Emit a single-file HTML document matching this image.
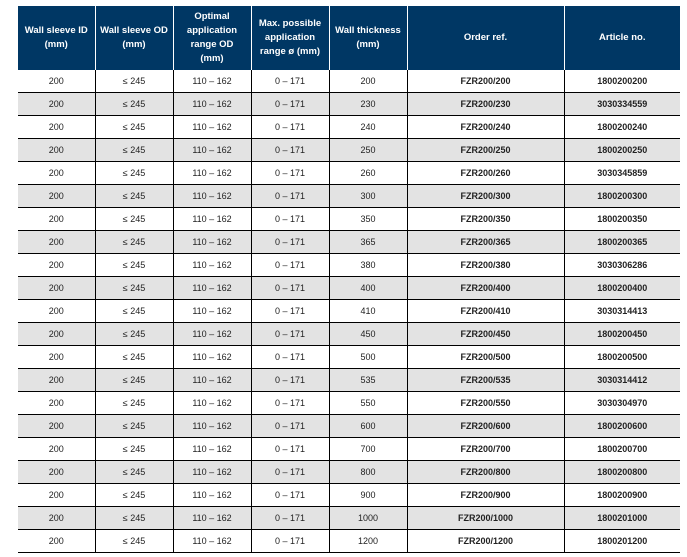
<!DOCTYPE html>
<html><head><meta charset="utf-8"><style>
html,body{margin:0;padding:0;background:#fff;width:687px;height:557px;overflow:hidden}
table{position:absolute;left:18px;top:6px;border-collapse:collapse;font-family:"Liberation Sans",sans-serif;font-size:9px;color:#222;table-layout:fixed}
th{background:#003764;color:#fff;font-weight:bold;height:64px;padding:0 4px;border-left:1px solid #fff;line-height:14px;font-size:9.5px}
th.n{padding:0 9px}
th:first-child{border-left:none}
td{height:22px;text-align:center;border-left:1px solid #000;border-bottom:1px solid #000;padding:0}
td:first-child{border-left:none}
tr:nth-child(odd) td{background:#e3e3e3}
td.b{font-weight:bold}
</style></head><body>
<table>
<colgroup><col style="width:77px"><col style="width:78px"><col style="width:78px"><col style="width:78px"><col style="width:78px"><col style="width:157px"><col style="width:116px"></colgroup>
<tr><th>Wall sleeve ID (mm)</th><th>Wall sleeve OD (mm)</th><th class="n">Optimal application range OD (mm)</th><th>Max. possible application range ø (mm)</th><th>Wall thickness (mm)</th><th>Order ref.</th><th>Article no.</th></tr>
<tr><td>200</td><td>≤ 245</td><td>110 – 162</td><td>0 – 171</td><td>200</td><td class="b">FZR200/200</td><td class="b">1800200200</td></tr>
<tr><td>200</td><td>≤ 245</td><td>110 – 162</td><td>0 – 171</td><td>230</td><td class="b">FZR200/230</td><td class="b">3030334559</td></tr>
<tr><td>200</td><td>≤ 245</td><td>110 – 162</td><td>0 – 171</td><td>240</td><td class="b">FZR200/240</td><td class="b">1800200240</td></tr>
<tr><td>200</td><td>≤ 245</td><td>110 – 162</td><td>0 – 171</td><td>250</td><td class="b">FZR200/250</td><td class="b">1800200250</td></tr>
<tr><td>200</td><td>≤ 245</td><td>110 – 162</td><td>0 – 171</td><td>260</td><td class="b">FZR200/260</td><td class="b">3030345859</td></tr>
<tr><td>200</td><td>≤ 245</td><td>110 – 162</td><td>0 – 171</td><td>300</td><td class="b">FZR200/300</td><td class="b">1800200300</td></tr>
<tr><td>200</td><td>≤ 245</td><td>110 – 162</td><td>0 – 171</td><td>350</td><td class="b">FZR200/350</td><td class="b">1800200350</td></tr>
<tr><td>200</td><td>≤ 245</td><td>110 – 162</td><td>0 – 171</td><td>365</td><td class="b">FZR200/365</td><td class="b">1800200365</td></tr>
<tr><td>200</td><td>≤ 245</td><td>110 – 162</td><td>0 – 171</td><td>380</td><td class="b">FZR200/380</td><td class="b">3030306286</td></tr>
<tr><td>200</td><td>≤ 245</td><td>110 – 162</td><td>0 – 171</td><td>400</td><td class="b">FZR200/400</td><td class="b">1800200400</td></tr>
<tr><td>200</td><td>≤ 245</td><td>110 – 162</td><td>0 – 171</td><td>410</td><td class="b">FZR200/410</td><td class="b">3030314413</td></tr>
<tr><td>200</td><td>≤ 245</td><td>110 – 162</td><td>0 – 171</td><td>450</td><td class="b">FZR200/450</td><td class="b">1800200450</td></tr>
<tr><td>200</td><td>≤ 245</td><td>110 – 162</td><td>0 – 171</td><td>500</td><td class="b">FZR200/500</td><td class="b">1800200500</td></tr>
<tr><td>200</td><td>≤ 245</td><td>110 – 162</td><td>0 – 171</td><td>535</td><td class="b">FZR200/535</td><td class="b">3030314412</td></tr>
<tr><td>200</td><td>≤ 245</td><td>110 – 162</td><td>0 – 171</td><td>550</td><td class="b">FZR200/550</td><td class="b">3030304970</td></tr>
<tr><td>200</td><td>≤ 245</td><td>110 – 162</td><td>0 – 171</td><td>600</td><td class="b">FZR200/600</td><td class="b">1800200600</td></tr>
<tr><td>200</td><td>≤ 245</td><td>110 – 162</td><td>0 – 171</td><td>700</td><td class="b">FZR200/700</td><td class="b">1800200700</td></tr>
<tr><td>200</td><td>≤ 245</td><td>110 – 162</td><td>0 – 171</td><td>800</td><td class="b">FZR200/800</td><td class="b">1800200800</td></tr>
<tr><td>200</td><td>≤ 245</td><td>110 – 162</td><td>0 – 171</td><td>900</td><td class="b">FZR200/900</td><td class="b">1800200900</td></tr>
<tr><td>200</td><td>≤ 245</td><td>110 – 162</td><td>0 – 171</td><td>1000</td><td class="b">FZR200/1000</td><td class="b">1800201000</td></tr>
<tr><td>200</td><td>≤ 245</td><td>110 – 162</td><td>0 – 171</td><td>1200</td><td class="b">FZR200/1200</td><td class="b">1800201200</td></tr>
</table>
</body></html>
